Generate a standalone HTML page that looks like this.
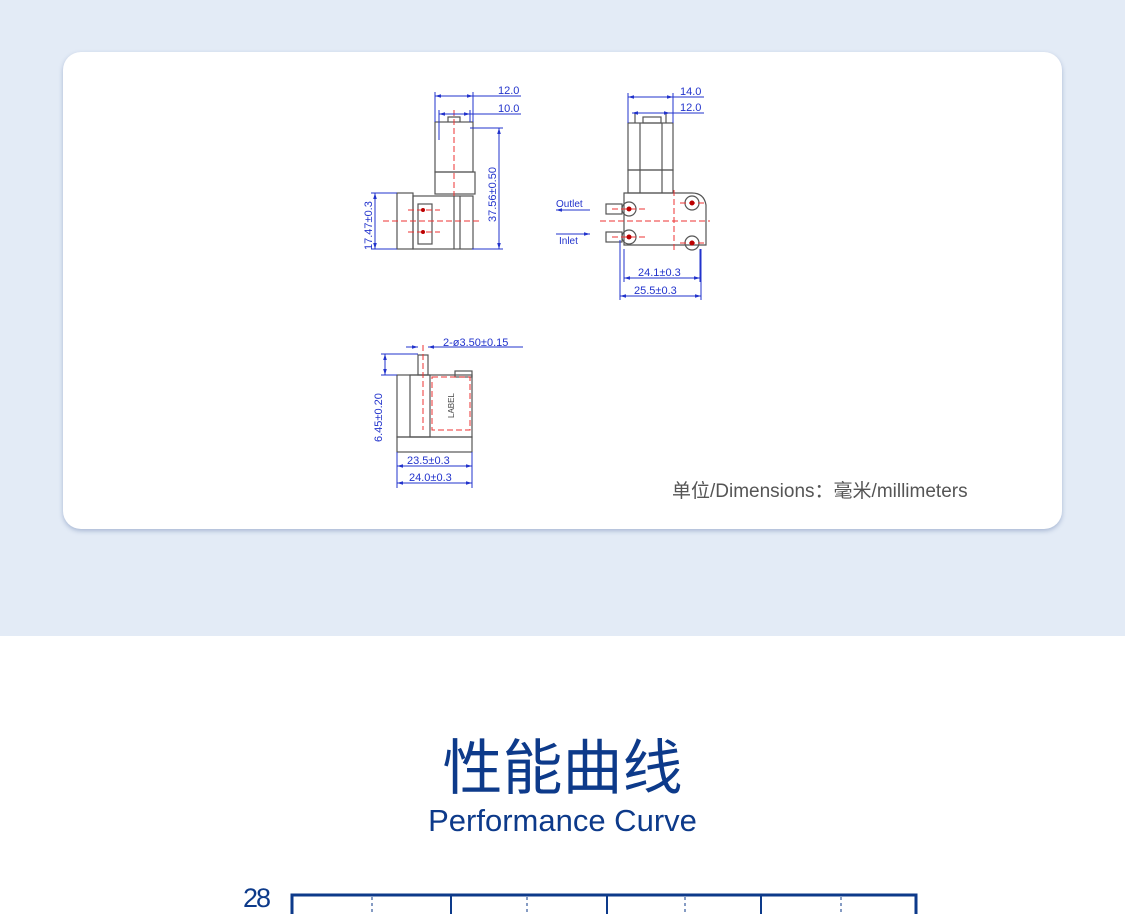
<!DOCTYPE html>
<html><head><meta charset="utf-8"><style>
html,body{margin:0;padding:0;width:1125px;height:914px;overflow:hidden;background:#fff;font-family:"Liberation Sans","Noto Sans CJK SC",sans-serif}
.top{position:absolute;left:0;top:0;width:1125px;height:636px;background:#e3ebf6}
.card{position:absolute;left:63px;top:52px;width:999px;height:477px;background:#fff;border-radius:18px;box-shadow:0 2px 5px rgba(60,90,150,.35)}
svg{position:absolute;left:0;top:0}
.t1{position:absolute;left:0;width:1125px;text-align:center;color:#0d3a8a}
</style></head><body>
<div class="top"></div>
<div class="card"></div>
<svg width="1125" height="914" viewBox="0 0 1125 914">
<defs>
<marker id="a" viewBox="0 0 10 10" refX="10" refY="5" markerWidth="6" markerHeight="6" orient="auto-start-reverse"><path d="M0,2L10,5L0,8z" fill="#2233cc"/></marker>
</defs>
<g stroke="#555" fill="none" stroke-width="1.2">
<rect x="435" y="122" width="38" height="50"/>
<rect x="435" y="172" width="40" height="22"/>
<rect x="397" y="193" width="16" height="56"/>
<rect x="413" y="196" width="60" height="53"/>
<line x1="454" y1="196" x2="454" y2="249"/><line x1="460" y1="196" x2="460" y2="249"/>
<rect x="418" y="204" width="14" height="40"/>
<path d="M448 122v-5h12v5"/>
<rect x="628" y="123" width="45" height="47"/>
<rect x="628" y="170" width="45" height="23"/>
<line x1="640" y1="123" x2="640" y2="193"/><line x1="662" y1="123" x2="662" y2="193"/>
<rect x="643" y="117" width="18" height="6"/><line x1="635" y1="113" x2="635" y2="123"/><line x1="666" y1="113" x2="666" y2="123"/>
<path d="M624 193h68q12 0 14 12v40h-82z"/>
<circle cx="629" cy="209" r="7"/><circle cx="629" cy="237" r="7"/><circle cx="692" cy="203" r="7"/><circle cx="692" cy="243" r="7"/>
<rect x="606" y="204" width="16" height="10"/><rect x="606" y="232" width="16" height="10"/>
<rect x="397" y="375" width="75" height="62"/>
<rect x="397" y="437" width="75" height="15"/>
<rect x="410" y="375" width="20" height="62"/>
<rect x="418" y="355" width="10" height="20"/>
<rect x="455" y="371" width="17" height="6"/>
</g>
<g stroke="#e33" stroke-width="1" stroke-dasharray="6,3" fill="none">
<line x1="454" y1="110" x2="454" y2="196"/><line x1="383" y1="221" x2="480" y2="221"/>
<line x1="408" y1="210" x2="440" y2="210"/><line x1="408" y1="232" x2="440" y2="232"/>
<line x1="600" y1="221" x2="710" y2="221"/><line x1="674" y1="190" x2="674" y2="252"/>
<line x1="612" y1="209" x2="645" y2="209"/><line x1="612" y1="237" x2="645" y2="237"/>
<line x1="680" y1="203" x2="705" y2="203"/><line x1="680" y1="243" x2="705" y2="243"/>
<line x1="423" y1="345" x2="423" y2="430"/>
<rect x="432" y="377" width="38" height="53"/>
</g>
<g fill="#b00"><circle cx="423" cy="210" r="2"/><circle cx="423" cy="232" r="2"/><circle cx="629" cy="209" r="2.5"/><circle cx="629" cy="237" r="2.5"/><circle cx="692" cy="203" r="2.5"/><circle cx="692" cy="243" r="2.5"/></g>
<g stroke="#2233cc" stroke-width="1" fill="none">
<line x1="435" y1="96" x2="473" y2="96" marker-start="url(#a)" marker-end="url(#a)"/><line x1="473" y1="96" x2="521" y2="96"/>
<line x1="439" y1="114" x2="470" y2="114" marker-start="url(#a)" marker-end="url(#a)"/><line x1="470" y1="114" x2="521" y2="114"/>
<line x1="435" y1="92" x2="435" y2="122"/><line x1="473" y1="92" x2="473" y2="122"/><line x1="439" y1="110" x2="439" y2="140"/><line x1="470" y1="110" x2="470" y2="122"/>
<line x1="499" y1="128" x2="499" y2="249" marker-start="url(#a)" marker-end="url(#a)"/><line x1="470" y1="128" x2="503" y2="128"/><line x1="472" y1="249" x2="503" y2="249"/>
<line x1="375" y1="193" x2="375" y2="249" marker-start="url(#a)" marker-end="url(#a)"/><line x1="371" y1="193" x2="397" y2="193"/><line x1="371" y1="249" x2="397" y2="249"/>
<line x1="628" y1="97" x2="673" y2="97" marker-start="url(#a)" marker-end="url(#a)"/><line x1="673" y1="97" x2="704" y2="97"/>
<line x1="632" y1="113" x2="670" y2="113" marker-start="url(#a)" marker-end="url(#a)"/><line x1="670" y1="113" x2="704" y2="113"/>
<line x1="628" y1="93" x2="628" y2="123"/><line x1="673" y1="93" x2="673" y2="123"/>
<line x1="624" y1="278" x2="700" y2="278" marker-start="url(#a)" marker-end="url(#a)"/>
<line x1="620" y1="296" x2="701" y2="296" marker-start="url(#a)" marker-end="url(#a)"/>
<line x1="624" y1="249" x2="624" y2="282"/><line x1="620" y1="240" x2="620" y2="300"/><line x1="700" y1="249" x2="700" y2="282"/><line x1="701" y1="249" x2="701" y2="300"/>
<line x1="590" y1="210" x2="556" y2="210" marker-end="url(#a)"/>
<line x1="556" y1="234" x2="590" y2="234" marker-end="url(#a)"/>
<line x1="385" y1="354" x2="385" y2="375" marker-start="url(#a)" marker-end="url(#a)"/><line x1="381" y1="354" x2="418" y2="354"/><line x1="381" y1="375" x2="397" y2="375"/>
<line x1="406" y1="347" x2="418" y2="347" marker-end="url(#a)"/><line x1="440" y1="347" x2="428" y2="347" marker-end="url(#a)"/><line x1="440" y1="347" x2="523" y2="347"/>
<line x1="397" y1="466" x2="472" y2="466" marker-start="url(#a)" marker-end="url(#a)"/>
<line x1="397" y1="483" x2="472" y2="483" marker-start="url(#a)" marker-end="url(#a)"/>
<line x1="397" y1="452" x2="397" y2="488"/><line x1="472" y1="452" x2="472" y2="488"/>
</g>
<g fill="#2233cc" font-size="11">
<text x="498" y="94">12.0</text><text x="498" y="112">10.0</text>
<text x="680" y="95">14.0</text><text x="680" y="111">12.0</text>
<text x="638" y="276">24.1±0.3</text><text x="634" y="294">25.5±0.3</text>
<text x="556" y="207" font-size="10">Outlet</text><text x="559" y="244" font-size="10">Inlet</text>
<text x="443" y="346">2-ø3.50±0.15</text>
<text x="407" y="464">23.5±0.3</text><text x="409" y="481">24.0±0.3</text>
<text transform="translate(496,222) rotate(-90)">37.56±0.50</text>
<text transform="translate(372,250) rotate(-90)">17.47±0.3</text>
<text transform="translate(382,442) rotate(-90)">6.45±0.20</text>
</g>
<text transform="translate(454,418) rotate(-90)" font-size="8" fill="#444">LABEL</text>
<text x="672" y="497" font-size="19" fill="#555">单位/Dimensions：毫米/millimeters</text>
<text x="243" y="907" font-size="27" fill="#0d3a8a" letter-spacing="-2">28</text>
<g stroke="#0d3a8a" fill="none">
<path d="M292 914V895H916V914" stroke-width="3"/>
<line x1="451" y1="895" x2="451" y2="914" stroke-width="2"/><line x1="607" y1="895" x2="607" y2="914" stroke-width="2"/><line x1="761" y1="895" x2="761" y2="914" stroke-width="2"/>
<g stroke-dasharray="3,3" stroke-width="1"><line x1="372" y1="897" x2="372" y2="914"/><line x1="527" y1="897" x2="527" y2="914"/><line x1="685" y1="897" x2="685" y2="914"/><line x1="841" y1="897" x2="841" y2="914"/></g>
</g>
</svg>
<div class="t1" style="top:728px;font-size:60px;font-family:'Noto Sans CJK SC',sans-serif;line-height:72px">性能曲线</div>
<div class="t1" style="top:803px;font-size:31px;line-height:36px">Performance Curve</div>
</body></html>
